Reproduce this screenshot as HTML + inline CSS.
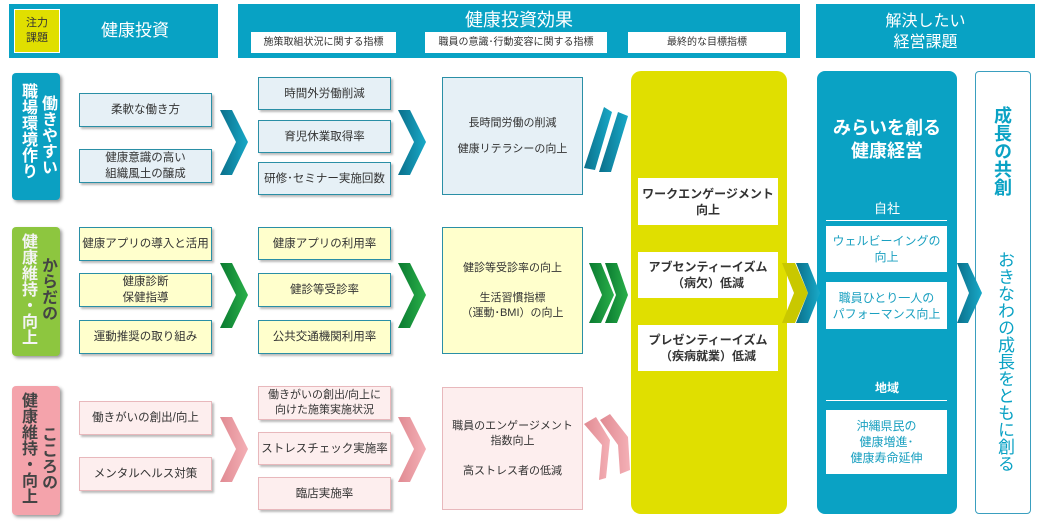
<!DOCTYPE html>
<html><head><meta charset="utf-8"><style>
body{margin:0;width:1041px;height:523px;background:#fff;position:relative;overflow:hidden;font-family:"Liberation Sans","Noto Sans CJK JP",sans-serif;color:#333}
div{position:absolute;box-sizing:border-box}
.hd{background:#08a2c4;color:#fff}
.sub{background:#fff;color:#333;font-size:10px;text-align:center;line-height:21px}
.b{display:flex;align-items:center;justify-content:center;text-align:center;font-size:11.5px;line-height:16px;border:1px solid #2a8fa6;box-shadow:2px 2px 2px #bbb}
.bb{background:#e6f0f6}
.by{background:#ffffcc}
.bp{background:#fdeeee;border-color:#e8b8bc}
.tab{border-radius:4px;box-shadow:2px 2px 3px #999;color:#fff;font-weight:bold;font-size:16px;line-height:18px}
.v{writing-mode:vertical-rl;text-orientation:upright;width:19px;text-align:left}
.w{background:#fff;display:flex;align-items:center;justify-content:center;text-align:center}
</style></head><body>
<div class="hd" style="left:9px;top:4px;width:209px;height:54px"></div>
<div style="left:14px;top:9px;width:46px;height:44px;background:#e0df00;border:1px solid #fff;font-size:11px;line-height:15px;text-align:center;padding-top:6px;color:#333">注力<br>課題</div>
<div style="left:70px;top:16px;width:130px;color:#fff;font-size:17px;text-align:center">健康投資</div>
<div class="hd" style="left:238px;top:4px;width:562px;height:54px"></div>
<div style="left:238px;top:6px;width:562px;color:#fff;font-size:18px;text-align:center">健康投資効果</div>
<div class="sub" style="left:251px;top:32px;width:145px">施策取組状況に関する指標</div>
<div class="sub" style="left:425px;top:32px;width:182px">職員の意識･行動変容に関する指標</div>
<div class="sub" style="left:628px;top:32px;width:158px">最終的な目標指標</div>
<div class="hd" style="left:816px;top:4px;width:219px;height:54px;font-size:16px;line-height:21px;text-align:center;padding-top:7px">解決したい<br>経営課題</div>

<!-- row1 -->
<div class="tab" style="left:12px;top:73px;width:48px;height:127px;background:#0ba0c2">
<div class="v" style="left:5px;top:10px;height:115px">職場環境作り</div><div class="v" style="left:25px;top:22px;height:100px">働きやすい</div></div>
<div class="b bb" style="left:79px;top:93px;width:133px;height:34px">柔軟な働き方</div>
<div class="b bb" style="left:79px;top:149px;width:133px;height:34px">健康意識の高い<br>組織風土の醸成</div>
<div class="b bb" style="left:258px;top:77px;width:133px;height:33px">時間外労働削減</div>
<div class="b bb" style="left:258px;top:120px;width:133px;height:33px">育児休業取得率</div>
<div class="b bb" style="left:258px;top:162px;width:133px;height:33px">研修･セミナー実施回数</div>
<div class="b bb" style="left:442px;top:77px;width:141px;height:118px;font-size:11px;line-height:26px;box-shadow:none">長時間労働の削減<br>健康リテラシーの向上</div>

<!-- row2 -->
<div class="tab" style="left:12px;top:227px;width:48px;height:129px;background:#8dc63f">
<div class="v" style="left:5px;top:6px;height:122px;color:#f4f4f4">健康維持・向上</div><div class="v" style="left:25px;top:30px;height:90px;color:#444">からだの</div></div>
<div class="b by" style="left:79px;top:227px;width:133px;height:34px">健康アプリの導入と活用</div>
<div class="b by" style="left:79px;top:273px;width:133px;height:34px">健康診断<br>保健指導</div>
<div class="b by" style="left:79px;top:320px;width:133px;height:34px">運動推奨の取り組み</div>
<div class="b by" style="left:258px;top:227px;width:133px;height:33px">健康アプリの利用率</div>
<div class="b by" style="left:258px;top:273px;width:133px;height:34px">健診等受診率</div>
<div class="b by" style="left:258px;top:320px;width:133px;height:34px">公共交通機関利用率</div>
<div class="b by" style="left:442px;top:227px;width:141px;height:127px;font-size:11px;line-height:15px;box-shadow:none">健診等受診率の向上<br><br>生活習慣指標<br>（運動･BMI）の向上</div>

<!-- row3 -->
<div class="tab" style="left:12px;top:386px;width:48px;height:129px;background:#f4a3ab">
<div class="v" style="left:5px;top:6px;height:122px;color:#444">健康維持・向上</div><div class="v" style="left:25px;top:40px;height:85px;color:#444">こころの</div></div>
<div class="b bp" style="left:79px;top:401px;width:133px;height:34px">働きがいの創出/向上</div>
<div class="b bp" style="left:79px;top:457px;width:133px;height:34px">メンタルヘルス対策</div>
<div class="b bp" style="left:258px;top:386px;width:133px;height:34px;font-size:11px;line-height:15px">働きがいの創出/向上に<br>向けた施策実施状況</div>
<div class="b bp" style="left:258px;top:432px;width:133px;height:33px">ストレスチェック実施率</div>
<div class="b bp" style="left:258px;top:477px;width:133px;height:33px">臨店実施率</div>
<div class="b bp" style="left:442px;top:387px;width:141px;height:123px;font-size:11px;line-height:15px;box-shadow:none">職員のエンゲージメント<br>指数向上<br><br>高ストレス者の低減</div>

<!-- yellow panel -->
<div style="left:631px;top:71px;width:156px;height:443px;background:#e0df00;border-radius:10px"></div>
<div class="w" style="left:638px;top:178px;width:140px;height:47px;font-weight:bold;font-size:12px;line-height:16px">ワークエンゲージメント<br>向上</div>
<div class="w" style="left:638px;top:252px;width:140px;height:46px;font-weight:bold;font-size:12px;line-height:16px">アブセンティーイズム<br>（病欠）低減</div>
<div class="w" style="left:638px;top:325px;width:140px;height:46px;font-weight:bold;font-size:12px;line-height:16px">プレゼンティーイズム<br>（疾病就業）低減</div>

<!-- blue panel -->
<div style="left:817px;top:71px;width:140px;height:443px;background:#0aa2c4;border-radius:8px"></div>
<div style="left:817px;top:117px;width:140px;text-align:center;color:#fff;font-weight:bold;font-size:18px;line-height:23px">みらいを創る<br>健康経営</div>
<div style="left:817px;top:198px;width:140px;text-align:center;color:#fff;font-size:13px">自社</div>
<div style="left:826px;top:220px;width:121px;height:1px;background:#fff"></div>
<div class="w" style="left:826px;top:226px;width:121px;height:46px;color:#1aa0c0;font-size:12px;line-height:16px">ウェルビーイングの<br>向上</div>
<div class="w" style="left:826px;top:282px;width:121px;height:47px;color:#1aa0c0;font-size:12px;line-height:16px">職員ひとり一人の<br>パフォーマンス向上</div>
<div style="left:817px;top:379px;width:140px;text-align:center;color:#fff;font-size:12px;font-weight:bold">地域</div>
<div style="left:826px;top:400px;width:121px;height:1px;background:#fff"></div>
<div class="w" style="left:826px;top:410px;width:121px;height:64px;color:#1aa0c0;font-size:12px;line-height:16px">沖縄県民の<br>健康増進･<br>健康寿命延伸</div>

<!-- right -->
<div style="left:975px;top:71px;width:56px;height:443px;border:1px solid #3a9fbf;border-radius:4px"></div>
<div class="v" style="left:990px;top:106px;width:24px;color:#0aa2c4;font-weight:bold;font-size:18px;line-height:24px">成長の共創</div>
<div class="v" style="left:992px;top:251px;width:22px;color:#0aa2c4;font-size:17px;line-height:20px">おきなわの成長をともに創る</div>

<svg width="1041" height="523" style="position:absolute;left:0;top:0">
<defs>
<linearGradient id="gb" x1="0" x2="1"><stop offset="0" stop-color="#0b6f8a"/><stop offset="1" stop-color="#18a9c8"/></linearGradient>
<linearGradient id="gg" x1="0" x2="1"><stop offset="0" stop-color="#0a7a30"/><stop offset="1" stop-color="#2ab04a"/></linearGradient>
<linearGradient id="gp" x1="0" x2="1"><stop offset="0" stop-color="#e08a92"/><stop offset="1" stop-color="#f4b0b6"/></linearGradient>
</defs>
<g fill="url(#gb)">
<polygon points="220,110 232,110 248,142 232,175 220,175 236,142"/>
<polygon points="398,110 410,110 426,142 410,175 398,175 414,142"/>
<polygon points="604,107 612,112 595,170 584,168"/>
<polygon points="618,112 628,116 611,172 599,172"/>
</g>
<g fill="url(#gg)">
<polygon points="220,263 232,263 248,295 232,328 220,328 236,295"/>
<polygon points="398,263 410,263 426,295 410,328 398,328 414,295"/>
<polygon points="589,263 601,263 614,295 601,323 589,323 602,295"/>
<polygon points="605,263 617,263 628,295 617,323 605,323 616,295"/>
</g>
<g fill="url(#gp)">
<polygon points="220,417 232,417 248,449 232,482 220,482 236,449"/>
<polygon points="398,417 410,417 426,449 410,482 398,482 414,449"/>
<polygon points="584,424 596,417 610,440 606,478 599,480 602,445"/>
<polygon points="600,420 610,414 628,437 630,470 620,474 618,445"/>
</g>
<polygon points="782,263 795,263 808,293 795,323 782,323 794,293" fill="#c9c800"/>
<polygon points="796,263 808,263 820,293 808,323 796,323 808,293" fill="url(#gb)"/>
<polygon points="957,263 968,263 982,293 968,323 957,323 969,293" fill="url(#gb)"/>
</svg>
</body></html>
